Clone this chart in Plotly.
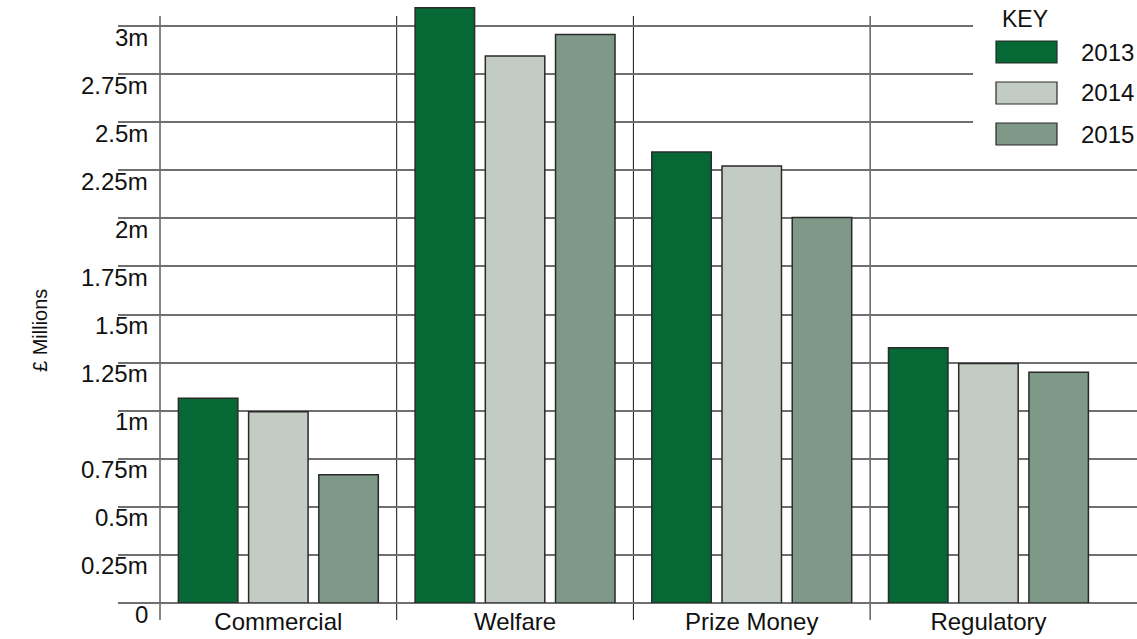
import plotly.graph_objects as go

# ---- data ----
categories = ["Commercial", "Welfare", "Prize Money", "Regulatory"]
years = ["2013", "2014", "2015"]
values_2013 = [1.065, 3.096, 2.345, 1.328]
values_2014 = [0.995, 2.844, 2.272, 1.245]
values_2015 = [0.667, 2.956, 2.005, 1.200]
tick_values = [0, 0.25, 0.5, 0.75, 1, 1.25, 1.5, 1.75, 2, 2.25, 2.5, 2.75, 3]
tick_labels = ["0", "0.25m", "0.5m", "0.75m", "1m", "1.25m", "1.5m", "1.75m",
               "2m", "2.25m", "2.5m", "2.75m", "3m"]
y_title = "£ Millions"
legend_title = "KEY"

colors = ["#056835", "#c3ccc4", "#7e9987"]
series = [values_2013, values_2014, values_2015]

W, H = 1137, 639
L, R, T, B = 118, 0, 0, 36
PW, PH = W - L - R, H - T - B
FONT = "Liberation Sans, Arial, sans-serif"


def px_x(p):
    return (p - L) / PW


def px_y(p):
    return (H - B - p) / PH


fig = go.Figure()
for name, vals, col in zip(years, series, colors):
    fig.add_trace(go.Bar(
        x=categories, y=vals, name=name,
        marker=dict(color=col, line=dict(color="#2a2a2a", width=1.5)),
        showlegend=False,
    ))

shapes = []
# category separators (vertical lines)
for i in range(len(categories)):
    shapes.append(dict(type="line", xref="x", yref="paper",
                       x0=i - 0.5, x1=i - 0.5, y0=px_y(620), y1=px_y(16),
                       line=dict(color="#111111", width=1), layer="below"))

# legend background (covers gridlines)
shapes.append(dict(type="rect", xref="paper", yref="paper",
                   x0=px_x(973), x1=1.0, y0=px_y(158), y1=1.0,
                   fillcolor="white", line=dict(width=0), layer="above"))

annotations = []
# legend swatches and labels
sw_tops = [41, 82, 123]
for k, (name, col) in enumerate(zip(years, colors)):
    top = sw_tops[k]
    shapes.append(dict(type="rect", xref="paper", yref="paper",
                       x0=px_x(996), x1=px_x(1057), y0=px_y(top + 22), y1=px_y(top),
                       fillcolor=col, line=dict(color="#2a2a2a", width=1.2),
                       layer="above"))
    annotations.append(dict(text=name, xref="paper", yref="paper",
                            x=px_x(1079), y=px_y(top + 11), xanchor="left",
                            yanchor="middle", showarrow=False,
                            font=dict(family=FONT, size=24, color="#111")))
annotations.append(dict(text=legend_title, xref="paper", yref="paper",
                        x=px_x(1025), y=px_y(19), xanchor="center",
                        yanchor="middle", showarrow=False,
                        font=dict(family=FONT, size=23, color="#111")))

# y tick labels
for v, t in zip(tick_values, tick_labels):
    annotations.append(dict(text=t, xref="paper", yref="y", x=px_x(150), y=v,
                            xanchor="right", yanchor="middle", yshift=-11,
                            showarrow=False,
                            font=dict(family=FONT, size=24, color="#111")))

# y title
annotations.append(dict(text=y_title, xref="paper", yref="paper",
                        x=px_x(40), y=px_y(331), xanchor="center",
                        yanchor="middle", textangle=-90, showarrow=False,
                        font=dict(family=FONT, size=20, color="#111")))

unit = 236.7
x0 = -0.5 - (160 - L) / unit
x1 = -0.5 + (W - 160) / unit

fig.update_layout(
    width=W, height=H,
    margin=dict(l=L, r=R, t=T, b=B, pad=0),
    paper_bgcolor="white", plot_bgcolor="white",
    barmode="group", bargap=0.11, bargroupgap=0.153,
    font=dict(family=FONT, size=24, color="#111"),
    xaxis=dict(range=[x0, x1], showgrid=False, zeroline=False, showline=False,
               ticks="", tickfont=dict(size=24, color="#111"),
               ticklabelstandoff=2, fixedrange=True),
    yaxis=dict(range=[0, PH / 192.3], tickvals=tick_values, showticklabels=False,
               showgrid=True, gridcolor="#6f6f6f", gridwidth=1.5,
               zeroline=True, zerolinecolor="#6f6f6f", zerolinewidth=1.5,
               showline=False, ticks="", fixedrange=True),
    shapes=shapes,
    annotations=annotations,
)

fig.write_html("out.html")
